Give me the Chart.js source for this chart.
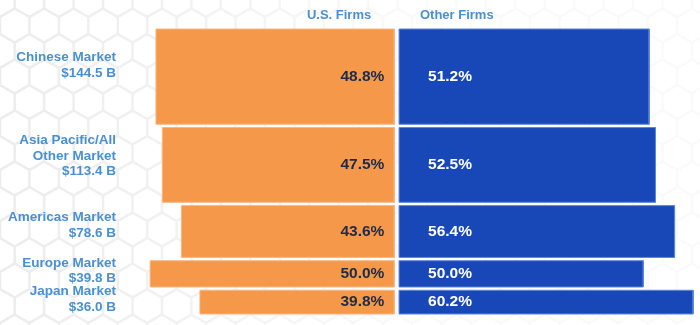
<!DOCTYPE html>
<html>
<head>
<meta charset="utf-8">
<script src="https://cdn.jsdelivr.net/npm/chart.js@4/dist/chart.umd.min.js"></script>
<style>
  html, body { margin: 0; padding: 0; background: #ffffff; }
  #wrap { width: 700px; height: 325px; position: relative; }
</style>
</head>
<body>
<div id="wrap"><canvas id="c" width="700" height="325"></canvas></div>
<script>
// ---- data ----
const marketNames = [
  ["Chinese Market"],
  ["Asia Pacific/All", "Other Market"],
  ["Americas Market"],
  ["Europe Market"],
  ["Japan Market"]
];
const marketSizes = [144.5, 113.4, 78.6, 39.8, 36.0];   // $ billions
const usShare     = [48.8, 47.5, 43.6, 50.0, 39.8];     // %
const otherShare  = [51.2, 52.5, 56.4, 50.0, 60.2];     // %
const seriesNames = ["U.S. Firms", "Other Firms"];

// ---- layout constants (not data) ----
const GAP = 5;          // vertical gap between markets, in $B units
const HALF_GAP = 0.48;  // horizontal half gap between the two sides, in % units
const FONT = '"Liberation Sans", Arial, Helvetica, sans-serif';
const ORANGE = '#F6984A', ORANGE_EDGE = '#F9B781';
const BLUE = '#1848B7', BLUE_EDGE = '#5C86D9';
const LABEL_BLUE = '#4A90D0';

const starts = [];
let acc = 0;
marketSizes.forEach((s, i) => { starts.push(acc); acc += s + (i < marketSizes.length - 1 ? GAP : 0); });
const total = acc;

function rect(x0, x1, y0, y1) {
  return [{x: x0, y: y0}, {x: x1, y: y0}, {x: x1, y: y1}, {x: x0, y: y1}, {x: x0, y: y0}];
}

const datasets = [];
marketSizes.forEach((size, i) => {
  const y0 = starts[i], y1 = starts[i] + size;
  datasets.push({
    label: seriesNames[0],
    data: rect(-HALF_GAP - usShare[i], -HALF_GAP, y0, y1),
    backgroundColor: ORANGE, borderColor: ORANGE_EDGE, borderWidth: 1,
    fill: 'shape', pointRadius: 0, tension: 0, clip: false
  });
  datasets.push({
    label: seriesNames[1],
    data: rect(HALF_GAP, HALF_GAP + otherShare[i], y0, y1),
    backgroundColor: BLUE, borderColor: BLUE_EDGE, borderWidth: 1,
    fill: 'shape', pointRadius: 0, tension: 0, clip: false
  });
});

const X_MIN = -50.91, X_MAX = 62.09;

// faint honeycomb backdrop (decoration only)
const honeycomb = {
  id: 'honeycomb',
  beforeDraw(chart) {
    const {ctx, width, height} = chart;
    ctx.save();
    ctx.fillStyle = '#ffffff';
    ctx.fillRect(0, 0, width, height);
    const r = 17, w = Math.sqrt(3) * r, h = 1.5 * r;
    const grad = ctx.createLinearGradient(0, 0, 420, 0);
    grad.addColorStop(0, 'rgba(0,0,0,0.075)');
    grad.addColorStop(0.45, 'rgba(0,0,0,0.05)');
    grad.addColorStop(1, 'rgba(0,0,0,0.02)');
    ctx.strokeStyle = grad;
    ctx.lineWidth = 2.5;
    ctx.beginPath();
    for (let row = -1; row * h < height + r; row++) {
      for (let col = -1; col * w < width + w; col++) {
        const cx = col * w + (row % 2 ? w / 2 : 0), cy = row * h;
        for (let k = 0; k < 6; k++) {
          const a = Math.PI / 180 * (60 * k - 90);
          const px = cx + r * Math.cos(a), py = cy + r * Math.sin(a);
          if (k === 0) ctx.moveTo(px, py); else ctx.lineTo(px, py);
        }
        ctx.closePath();
      }
    }
    ctx.stroke();
    ctx.restore();
  }
};

const valueLabels = {
  id: 'valueLabels',
  afterDatasetsDraw(chart) {
    const {ctx} = chart;
    const x = chart.scales.x, y = chart.scales.y;
    ctx.save();
    ctx.font = 'bold 15.5px ' + FONT;
    ctx.textBaseline = 'middle';
    marketSizes.forEach((size, i) => {
      const yc = y.getPixelForValue(starts[i] + size / 2);
      ctx.fillStyle = '#1C2B4A';
      ctx.textAlign = 'right';
      ctx.fillText(usShare[i].toFixed(1) + '%', x.getPixelForValue(-HALF_GAP) - 10, yc);
      ctx.fillStyle = '#FFFFFF';
      ctx.textAlign = 'left';
      ctx.fillText(otherShare[i].toFixed(1) + '%', x.getPixelForValue(HALF_GAP) + 29, yc);
    });
    ctx.restore();
  }
};

function noPad(scale) {
  scale.paddingTop = 0; scale.paddingBottom = 0;
  scale.paddingLeft = 0; scale.paddingRight = 0;
}

new Chart(document.getElementById('c'), {
  type: 'line',
  data: { datasets },
  plugins: [honeycomb, valueLabels],
  options: {
    responsive: false,
    animation: false,
    events: [],
    layout: { padding: { top: 0, left: 0, right: 0, bottom: 11 } },
    plugins: { legend: { display: false }, tooltip: { enabled: false }, title: { display: false } },
    scales: {
      x: {
        type: 'linear', min: X_MIN, max: X_MAX, bounds: 'data', display: false
      },
      x2: {
        type: 'linear', position: 'top', min: X_MIN, max: X_MAX, bounds: 'data',
        grid: { display: false, drawTicks: false },
        border: { display: false },
        afterBuildTicks: (scale) => { scale.ticks = [{value: -11.8}, {value: 12.3}]; },
        afterFit: (scale) => { scale.height = 29; noPad(scale); },
        ticks: {
          autoSkip: false, maxRotation: 0, padding: 6,
          color: LABEL_BLUE,
          font: { family: FONT, size: 13, weight: 'bold', lineHeight: 1.2 },
          callback: (v, idx) => seriesNames[idx]
        }
      },
      y: {
        type: 'linear', reverse: true, min: 0, max: total, bounds: 'data',
        grid: { display: false, drawTicks: false },
        border: { display: false },
        afterBuildTicks: (scale) => {
          scale.ticks = marketSizes.map((s, i) => ({ value: starts[i] + s * 0.38 }));
        },
        afterFit: (scale) => { scale.width = 148; noPad(scale); },
        ticks: {
          autoSkip: false, padding: 32,
          color: LABEL_BLUE,
          font: { family: FONT, size: 13.5, weight: 'bold', lineHeight: 1.15 },
          callback: (v, idx) => marketNames[idx].concat(['$' + marketSizes[idx].toFixed(1) + ' B'])
        }
      }
    }
  }
});
</script>
</body>
</html>
